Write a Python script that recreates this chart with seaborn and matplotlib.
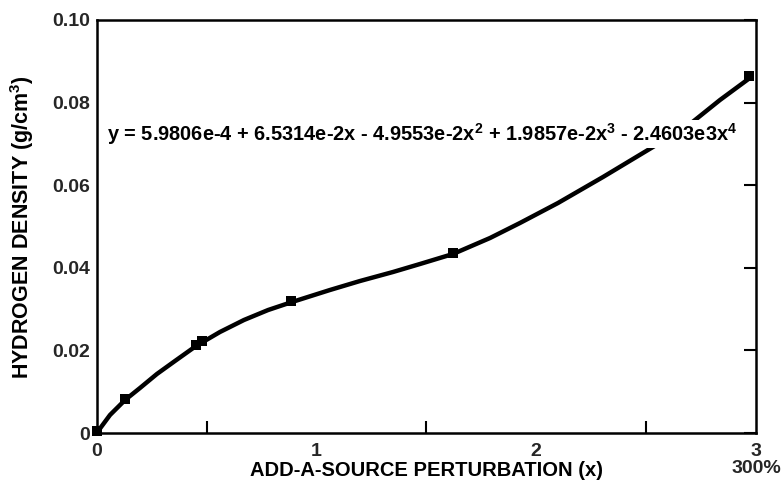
import matplotlib
matplotlib.use("Agg")
import matplotlib.pyplot as plt
import seaborn as sns
import pandas as pd
from matplotlib.ticker import FixedLocator

# Measured data points (square markers)
point_x = [0.0, 0.129, 0.451, 0.48, 0.886, 1.62, 2.97]
point_y = [0.0006, 0.0083, 0.0214, 0.0222, 0.0319, 0.0436, 0.0865]

# Fitted curve
curve_x = [0.0, 0.0605, 0.129, 0.197, 0.274, 0.356, 0.452, 0.561, 0.670, 0.780, 0.889,
           1.061, 1.198, 1.348, 1.471, 1.621, 1.790, 1.926, 2.099, 2.304, 2.531, 2.700,
           2.836, 2.972]
curve_y = [0.0, 0.00436, 0.00799, 0.01090, 0.01429, 0.01743, 0.02107, 0.02446, 0.02736,
           0.02978, 0.03172, 0.03462, 0.03680, 0.03898, 0.04092, 0.04334, 0.04722, 0.05085,
           0.05569, 0.06199, 0.06925, 0.07482, 0.08063, 0.08596]

x_ticks = [0, 1, 2, 3]
x_tick_labels = ["0", "1", "2", "3\n300%"]
y_ticks = [0, 0.02, 0.04, 0.06, 0.08, 0.10]
y_tick_labels = ["0", "0.02", "0.04", "0.06", "0.08", "0.10"]

equation = (r"y = 5.9806e-4 + 6.5314e-2x - 4.9553e-2x$^{\mathbf{2}}$ + 1.9857e-2x$^{\mathbf{3}}$"
            r" - 2.4603e3x$^{\mathbf{4}}$")

sns.set_theme(style="white")
plt.rcParams["font.family"] = ["Liberation Sans", "DejaVu Sans"]
plt.rcParams["font.weight"] = "bold"
plt.rcParams["mathtext.fontset"] = "custom"
plt.rcParams["mathtext.bf"] = "Liberation Sans:bold"
plt.rcParams["mathtext.rm"] = "Liberation Sans:bold"
plt.rcParams["mathtext.default"] = "bf"

fig = plt.figure(figsize=(7.81, 4.90), dpi=100)
ax = fig.add_axes([96.7 / 781, 1 - 433 / 490, (756 - 96.7) / 781, (433 - 20) / 490])

curve_df = pd.DataFrame({"x": curve_x, "y": curve_y})
pts_df = pd.DataFrame({"x": point_x, "y": point_y})

sns.lineplot(data=curve_df, x="x", y="y", ax=ax, color="black", lw=3.2, sort=False,
             clip_on=False, zorder=3)
sns.scatterplot(data=pts_df, x="x", y="y", ax=ax, color="black", marker="s", s=55,
                edgecolor="black", linewidth=0, clip_on=False, zorder=4)

ax.set_xlim(0, 3)
ax.set_ylim(0, 0.10)
ax.set_xticks(x_ticks)
ax.set_xticklabels(x_tick_labels, fontsize=14, fontweight="bold", linespacing=1.05)
ax.xaxis.set_minor_locator(FixedLocator([0.5, 1.5, 2.5]))
ax.set_yticks(y_ticks)
ax.set_yticklabels(y_tick_labels, fontsize=14, fontweight="bold")

ax.tick_params(axis="both", which="both", direction="in", length=9, width=1.5,
               color="black", right=True)
ax.tick_params(axis="x", which="major", pad=7)
ax.tick_params(axis="y", which="major", pad=5)
ax.tick_params(axis="x", which="minor", bottom=True, top=False)

for sp in ax.spines.values():
    sp.set_linewidth(1.8)
    sp.set_color("black")

ax.set_xlabel("ADD-A-SOURCE PERTURBATION (x)", fontsize=14.5, fontweight="bold", color="black")
ax.xaxis.set_label_coords(0.5, -0.068)
ax.set_ylabel("")
fig.text(22 / 781, 1 - 227 / 490, r"HYDROGEN DENSITY (g/cm$^{\mathbf{3}}$)", fontsize=15.5,
         fontweight="bold", color="black", rotation=90, ha="center", va="center")

ax.text(0.047, 0.0724, equation, fontsize=14.4, fontweight="bold", color="black",
        ha="left", va="center", zorder=6,
        bbox=dict(facecolor="white", edgecolor="none", pad=0.5))

fig.savefig("out.png", dpi=100, facecolor="white")
